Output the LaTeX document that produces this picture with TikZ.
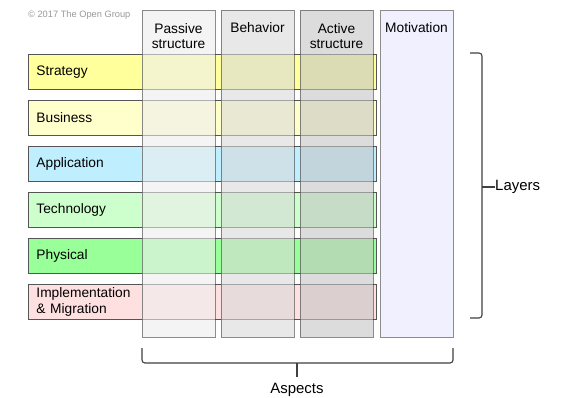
\documentclass[tikz,border=0pt]{standalone}
\usepackage{fontspec}
\setmainfont{Liberation Sans}
\definecolor{cstrat}{HTML}{FFFF9C}
\definecolor{cbus}{HTML}{FFFFCC}
\definecolor{capp}{HTML}{BFEFFF}
\definecolor{ctech}{HTML}{CCFFCC}
\definecolor{cphys}{HTML}{99FF99}
\definecolor{cimpl}{HTML}{FFE0E0}
\definecolor{cpass}{HTML}{EEEEEE}
\definecolor{cbeh}{HTML}{D9D9D9}
\definecolor{cact}{HTML}{C5C5C5}
\definecolor{cmot}{HTML}{F0F0FF}
\definecolor{cbord}{HTML}{555555}
\definecolor{cbrace}{HTML}{404040}
\begin{document}
\begin{tikzpicture}[x=1bp,y=-1bp,
  layerbox/.style={draw=cbord, line width=0.9bp, rectangle, anchor=north west,
    minimum height=35bp, text width=332bp, inner xsep=8bp, inner ysep=0bp, align=left,
    font=\fontsize{13.8}{15.5}\selectfont},
  aspectbox/.style={draw=black!75, draw opacity=0.6, line width=0.9bp, rectangle, anchor=north west,
    minimum width=73bp, minimum height=327bp, fill opacity=0.6, inner sep=0pt},
  hdr/.style={align=center, font=\fontsize{13.8}{15.5}\selectfont, inner sep=0pt},
  bracelbl/.style={font=\fontsize{15}{17}\selectfont, inner sep=0pt},
  bracestyle/.style={draw=cbrace, line width=1.1bp, rounded corners=3bp}
]
\useasboundingbox[fill=white] (0,0) rectangle (562,397);

\node[text=black!40, font=\fontsize{9.3}{11}\selectfont, anchor=west, inner sep=0pt] (copy) at (28,15) {© 2017 The Open Group};

% layers
\node[layerbox, fill=cstrat] (strategy) at (28,54) {Strategy};
\node[layerbox, fill=cbus] (business) at (28,100) {Business};
\node[layerbox, fill=capp] (application) at (28,146) {Application};
\node[layerbox, fill=ctech] (technology) at (28,192) {Technology};
\node[layerbox, fill=cphys] (physical) at (28,238) {Physical};
\node[layerbox, fill=cimpl] (implementation) at (28,284) {Implementation\\\& Migration};

% aspects
\node[aspectbox, fill=cpass] (passive) at (142,10) {};
\node[aspectbox, fill=cbeh] (behavior) at (221,10) {};
\node[aspectbox, fill=cact] (active) at (300,10) {};
\node[draw=black!45, line width=0.9bp, rectangle, anchor=north west, minimum width=73bp,
  minimum height=327bp, fill=cmot, inner sep=0pt] (motivation) at (380,10) {};

\node[hdr] (passivetxt) at (178.5,36) {Passive\\structure};
\node[hdr] (behaviortxt) at (257.5,28) {Behavior};
\node[hdr] (activetxt) at (336.5,36) {Active\\structure};
\node[hdr] (motivationtxt) at (416.5,28) {Motivation};

% layers brace
\node[bracelbl, anchor=west] (layers) at (495,187) {Layers};
\coordinate (lt) at (470,53);
\coordinate (lb) at (470,318);
\coordinate (lm) at (482,187);
\draw[bracestyle] (lt) -- (482,53) -- (lm) -- (482,318) -- (lb);
\draw[draw=cbrace, line width=1.1bp] (lm) -- (layers.west);

% aspects brace
\node[bracelbl] (aspects) at (297,390) {Aspects};
\coordinate (al) at (142,348);
\coordinate (ar) at (453,348);
\coordinate (am) at (297,363);
\draw[bracestyle] (al) -- (142,363) -- (am) -- (453,363) -- (ar);
\draw[draw=cbrace, line width=1.1bp] (am) -- (297,377);
\end{tikzpicture}
\end{document}
